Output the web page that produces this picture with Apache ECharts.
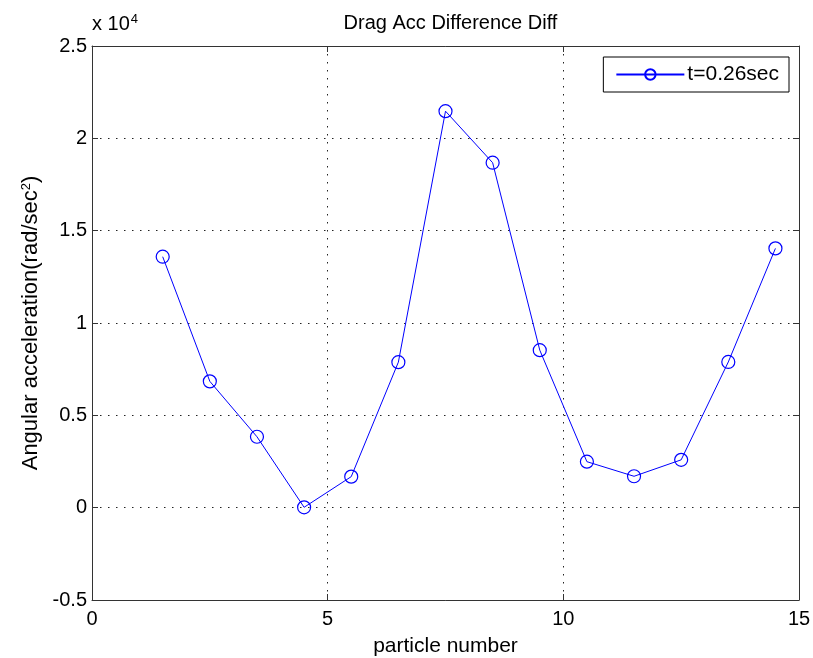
<!DOCTYPE html>
<html>
<head>
<meta charset="utf-8">
<script src="https://cdn.jsdelivr.net/npm/echarts@6/dist/echarts.min.js"></script>
<style>
  html, body { margin: 0; padding: 0; background: #fff; }
  #chart { width: 813px; height: 658px; }
</style>
</head>
<body>
<div id="chart"></div>
<script>
// Particle positions along the x axis
const particles = [1.5, 2.5, 3.5, 4.5, 5.5, 6.5, 7.5, 8.5, 9.5, 10.5, 11.5, 12.5, 13.5, 14.5];
// Angular acceleration difference at t = 0.26 s (rad/sec^2)
const accel = [13590, 6840, 3840, 20, 1680, 7880, 21470, 18680, 8530, 2490, 1700, 2590, 7890, 14040];
const seriesName = 't=0.26sec';
const yScale = 1e4;

const FONT = '"Liberation Sans", Arial, sans-serif';
const dotted = { color: '#222', width: 1, type: [1.5, 6.5] };

const chart = echarts.init(document.getElementById('chart'), null, { renderer: 'canvas' });

// Framing axes on the top and right, ticks only
const boxAxis = {
  axisLine: { show: true, onZero: false, lineStyle: { color: '#333', width: 1 } },
  axisTick: { show: true, inside: true, length: 6, lineStyle: { color: '#333' } },
  axisLabel: { show: false },
  splitLine: { show: false }
};

chart.setOption({
  animation: false,
  backgroundColor: '#fff',
  textStyle: { fontFamily: FONT },
  title: {
    text: 'Drag Acc Difference Diff',
    left: 445.5,
    textAlign: 'center',
    top: 8,
    textStyle: { fontFamily: FONT, fontSize: 20, fontWeight: 'normal', color: '#000' }
  },
  legend: {
    data: [seriesName],
    right: 24,
    top: 57,
    orient: 'vertical',
    backgroundColor: '#fff',
    borderColor: '#000',
    borderWidth: 1,
    padding: [7, 10, 7, 12],
    itemWidth: 68,
    itemHeight: 13,
    itemGap: 4,
    textStyle: { fontFamily: FONT, fontSize: 21, color: '#000', padding: [0, 0, 0, -2] }
  },
  grid: { left: 92, right: 14, top: 46, bottom: 58, containLabel: false, outerBoundsMode: 'none' },
  xAxis: [
    {
      type: 'value', min: 0, max: 15, interval: 5,
      name: 'particle number', nameLocation: 'middle', nameGap: 36,
      nameTextStyle: { fontFamily: FONT, fontSize: 21, color: '#000' },
      axisLine: { show: true, onZero: false, lineStyle: { color: '#333', width: 1 } },
      axisTick: { show: true, inside: true, length: 6, lineStyle: { color: '#333' } },
      axisLabel: { fontFamily: FONT, fontSize: 20, color: '#000', margin: 9 },
      splitLine: { show: true, lineStyle: dotted }
    },
    Object.assign({ type: 'value', min: 0, max: 15, interval: 5, position: 'top' }, boxAxis)
  ],
  yAxis: [
    {
      type: 'value', min: -5000, max: 25000, interval: 5000,
      name: 'Angular acceleration(rad/sec{sup|2})', nameLocation: 'middle', nameGap: 50,
      nameTextStyle: {
        fontFamily: FONT, fontSize: 22, color: '#000',
        rich: { sup: { fontFamily: FONT, fontSize: 13, color: '#000', verticalAlign: 'top', padding: [0, 0, 9, 0] } }
      },
      axisLine: { show: true, onZero: false, lineStyle: { color: '#333', width: 1 } },
      axisTick: { show: true, inside: true, length: 6, lineStyle: { color: '#333' } },
      axisLabel: { fontFamily: FONT, fontSize: 20, color: '#000', margin: 5,
        formatter: v => String(Math.round(v / yScale * 10) / 10) },
      splitLine: { show: true, lineStyle: dotted }
    },
    Object.assign({ type: 'value', min: -5000, max: 25000, interval: 5000, position: 'right' }, boxAxis)
  ],
  graphic: [
    {
      type: 'text', left: 92, top: 13,
      style: {
        text: 'x 10{sup|4}',
        fontFamily: FONT, fontSize: 20, fill: '#000',
        rich: { sup: { fontFamily: FONT, fontSize: 13, fill: '#000', verticalAlign: 'top', padding: [0, 0, 10, 1] } }
      }
    }
  ],
  series: [
    {
      name: seriesName,
      type: 'line',
      data: particles.map((p, i) => [p, accel[i]]),
      symbol: 'circle',
      symbolSize: 13,
      showAllSymbol: true,
      lineStyle: { color: '#0000ff', width: 1 },
      itemStyle: { color: 'rgba(0,0,0,0)', borderColor: '#0000ff', borderWidth: 1.2 },
      emphasis: { disabled: true }
    }
  ]
});
</script>
</body>
</html>
